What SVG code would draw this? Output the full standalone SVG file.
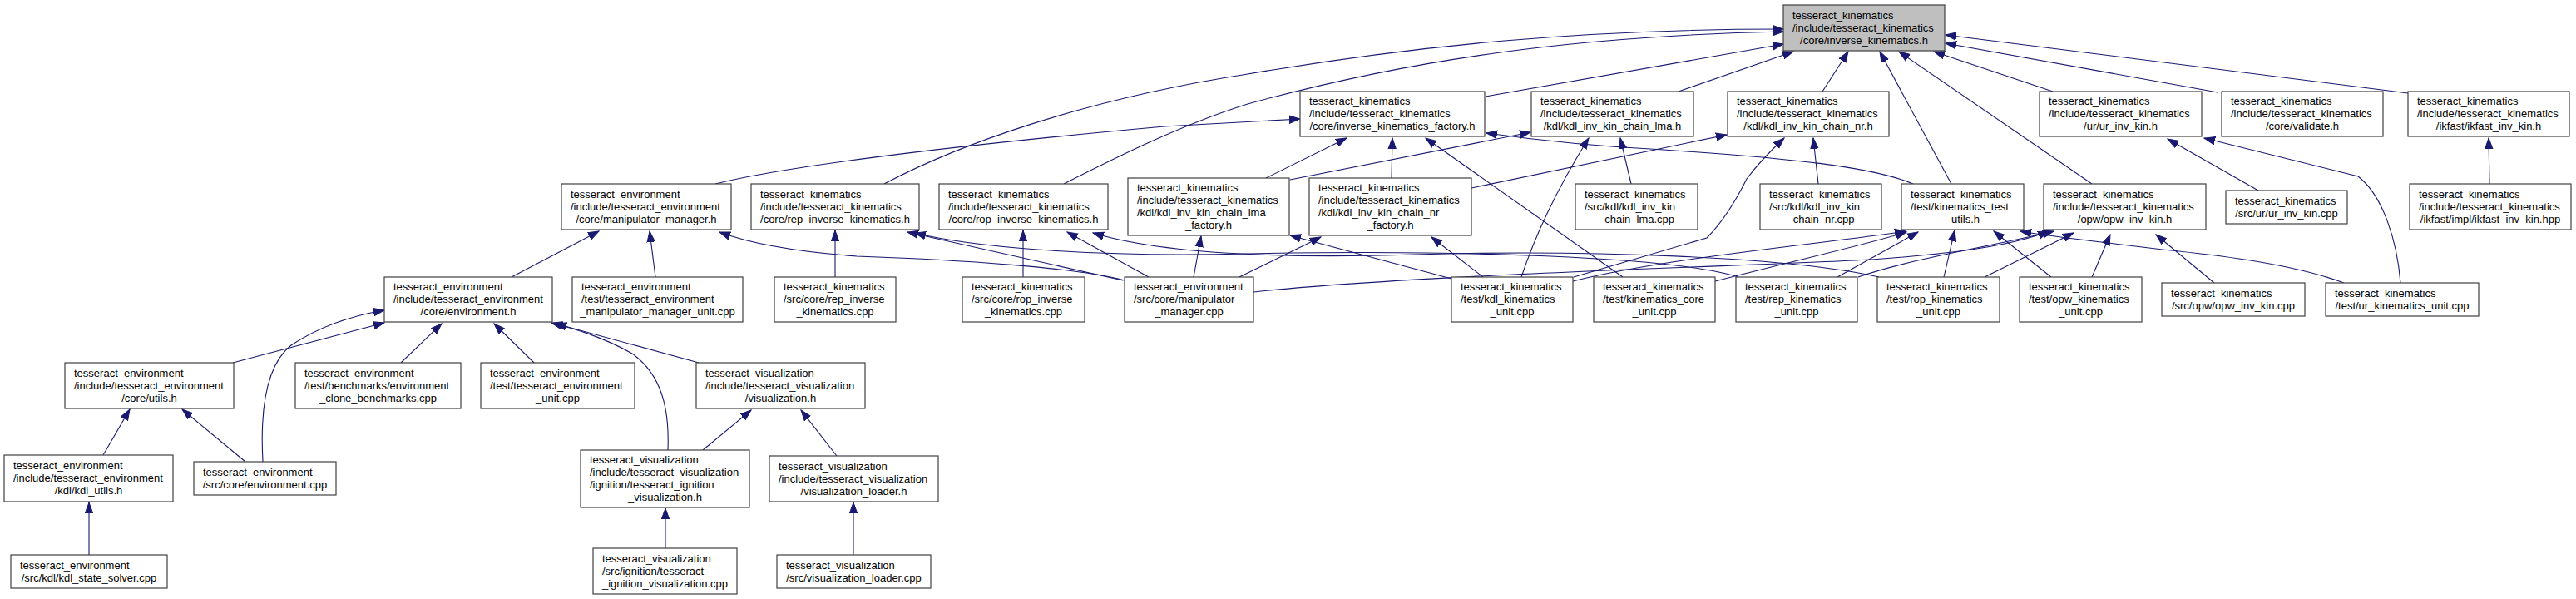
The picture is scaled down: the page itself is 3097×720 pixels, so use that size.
<svg xmlns="http://www.w3.org/2000/svg" width="3097" height="720" viewBox="0 0 3097 720">
<style>
.node rect{fill:#ffffff;stroke:#404040;stroke-width:1.2}
.main rect{fill:#bfbfbf}
.node text{font-family:"Liberation Sans",Arial,sans-serif;font-size:13px;fill:#000}
.node text.c{text-anchor:middle}
#edges path{fill:none;stroke:#191970;stroke-width:1.1;marker-end:url(#ah)}
</style>
<defs>
<marker id="ah" markerUnits="userSpaceOnUse" markerWidth="14" markerHeight="11" viewBox="0 0 14 11" refX="13" refY="5.5" orient="auto">
<path d="M0,0.8 L13,5.5 L0,10.2 z" fill="#191970" stroke="#191970" stroke-width="1"/>
</marker>
</defs>
<rect x="0" y="0" width="3097" height="720" fill="#ffffff"/>
<g id="edges">
<path d="M1786,116 L2144,53"/>
<path d="M2018,110 L2156,62"/>
<path d="M2191,110 L2222,62"/>
<path d="M2346,221 L2260,62"/>
<path d="M2515,221 L2283,62"/>
<path d="M2468,110 L2325,62"/>
<path d="M2666,111 L2339,52"/>
<path d="M2895,112 L2339,42"/>
<path d="M1063,221 C1150,175 1300,120 1500,89 C1700,55 1900,35 2144,35"/>
<path d="M1279,221 C1340,190 1420,150 1500,125 C1700,70 1900,43 2144,38"/>
<path d="M860,221 C960,196 1200,170 1400,152 L1563,143"/>
<path d="M1522,214 L1619,166"/>
<path d="M1673,214 L1674,166"/>
<path d="M1951,333 L1714,166"/>
<path d="M2300,221 C2250,200 2150,190 2000,180 C1900,175 1830,166 1787,160"/>
<path d="M1551,216 L1840,159"/>
<path d="M1961,221 L1948,166"/>
<path d="M1829,333 C1845,285 1870,230 1910,166"/>
<path d="M1769,226 L2076,162"/>
<path d="M2186,221 L2180,166"/>
<path d="M1892,333 L2052,286 C2068,270 2085,245 2100,215 C2115,195 2130,180 2145,166"/>
<path d="M615,333 L720,278"/>
<path d="M788,333 L781,278"/>
<path d="M1352,337 C1300,322 1150,312 1030,308 C950,302 900,292 865,279"/>
<path d="M1004,333 L1004,277"/>
<path d="M1350,337 L1091,279"/>
<path d="M2090,333 C2010,308 1750,300 1500,305 C1300,310 1160,295 1100,280"/>
<path d="M1230,333 L1230,277"/>
<path d="M1381,333 L1283,279"/>
<path d="M2259,333 C2150,308 1900,300 1700,306 C1500,312 1380,300 1314,280"/>
<path d="M1435,333 L1444,284"/>
<path d="M1745,335 L1551,283"/>
<path d="M1490,333 L1588,285"/>
<path d="M1783,333 L1721,285"/>
<path d="M1891,338 C2000,310 2200,292 2291,278"/>
<path d="M2062,338 C2150,315 2240,295 2292,279"/>
<path d="M2209,333 L2306,279"/>
<path d="M2337,333 L2350,277"/>
<path d="M2466,333 L2397,278"/>
<path d="M2818,340 C2750,315 2650,305 2600,300 C2520,290 2470,285 2429,278"/>
<path d="M1507,351 C1700,330 2100,320 2250,312 C2350,305 2420,295 2463,278"/>
<path d="M2234,333 C2300,310 2400,295 2469,278"/>
<path d="M2386,333 L2493,280"/>
<path d="M2515,333 L2537,282"/>
<path d="M2662,340 L2592,282"/>
<path d="M2715,229 L2606,167"/>
<path d="M2886,340 C2882,290 2865,235 2835,212 L2650,166"/>
<path d="M2993,221 L2992,166"/>
<path d="M280,436 L462,388"/>
<path d="M482,436 L531,389"/>
<path d="M642,436 L594,389"/>
<path d="M840,436 L668,389"/>
<path d="M803,541 C805,490 795,450 760,425 C725,405 690,395 663,388"/>
<path d="M316,555 C313,500 318,440 350,415 C380,395 420,380 462,373"/>
<path d="M295,555 L219,492"/>
<path d="M124,547 L156,492"/>
<path d="M107,667 L107,604"/>
<path d="M800,659 L800,611"/>
<path d="M1026,667 L1026,604"/>
<path d="M845,541 L903,493"/>
<path d="M1006,548 L963,493"/>
</g>
<g id="n_main" class="node main"><rect x="2144" y="6" width="194" height="55"/><text x="2155" y="22.5">tesseract_kinematics</text><text x="2155" y="37.5">/include/tesseract_kinematics</text><text class="c" x="2241" y="52.5">/core/inverse_kinematics.h</text></g>
<g id="n_factory" class="node"><rect x="1563" y="110" width="222" height="54"/><text x="1574" y="126">tesseract_kinematics</text><text x="1574" y="141">/include/tesseract_kinematics</text><text class="c" x="1674" y="156">/core/inverse_kinematics_factory.h</text></g>
<g id="n_chain_lma" class="node"><rect x="1841" y="110" width="195" height="54"/><text x="1852" y="126">tesseract_kinematics</text><text x="1852" y="141">/include/tesseract_kinematics</text><text class="c" x="1938.5" y="156">/kdl/kdl_inv_kin_chain_lma.h</text></g>
<g id="n_chain_nr" class="node"><rect x="2077" y="110" width="194" height="54"/><text x="2088" y="126">tesseract_kinematics</text><text x="2088" y="141">/include/tesseract_kinematics</text><text class="c" x="2174" y="156">/kdl/kdl_inv_kin_chain_nr.h</text></g>
<g id="n_ur_h" class="node"><rect x="2452" y="110" width="195" height="54"/><text x="2463" y="126">tesseract_kinematics</text><text x="2463" y="141">/include/tesseract_kinematics</text><text class="c" x="2549.5" y="156">/ur/ur_inv_kin.h</text></g>
<g id="n_validate" class="node"><rect x="2671" y="110" width="194" height="54"/><text x="2682" y="126">tesseract_kinematics</text><text x="2682" y="141">/include/tesseract_kinematics</text><text class="c" x="2768" y="156">/core/validate.h</text></g>
<g id="n_ikfast_h" class="node"><rect x="2895" y="110" width="194" height="54"/><text x="2906" y="126">tesseract_kinematics</text><text x="2906" y="141">/include/tesseract_kinematics</text><text class="c" x="2992" y="156">/ikfast/ikfast_inv_kin.h</text></g>
<g id="n_manip_h" class="node"><rect x="675" y="221" width="204" height="55"/><text x="686" y="237.5">tesseract_environment</text><text x="686" y="252.5">/include/tesseract_environment</text><text class="c" x="777" y="267.5">/core/manipulator_manager.h</text></g>
<g id="n_rep_h" class="node"><rect x="903" y="221" width="202" height="55"/><text x="914" y="237.5">tesseract_kinematics</text><text x="914" y="252.5">/include/tesseract_kinematics</text><text class="c" x="1004" y="267.5">/core/rep_inverse_kinematics.h</text></g>
<g id="n_rop_h" class="node"><rect x="1129" y="221" width="203" height="55"/><text x="1140" y="237.5">tesseract_kinematics</text><text x="1140" y="252.5">/include/tesseract_kinematics</text><text class="c" x="1230.5" y="267.5">/core/rop_inverse_kinematics.h</text></g>
<g id="n_lma_factory" class="node"><rect x="1356" y="214" width="194" height="69"/><text x="1367" y="230">tesseract_kinematics</text><text x="1367" y="245">/include/tesseract_kinematics</text><text x="1367" y="260">/kdl/kdl_inv_kin_chain_lma</text><text class="c" x="1453" y="275">_factory.h</text></g>
<g id="n_nr_factory" class="node"><rect x="1574" y="214" width="195" height="69"/><text x="1585" y="230">tesseract_kinematics</text><text x="1585" y="245">/include/tesseract_kinematics</text><text x="1585" y="260">/kdl/kdl_inv_kin_chain_nr</text><text class="c" x="1671.5" y="275">_factory.h</text></g>
<g id="n_lma_cpp" class="node"><rect x="1894" y="221" width="147" height="55"/><text x="1905" y="237.5">tesseract_kinematics</text><text x="1905" y="252.5">/src/kdl/kdl_inv_kin</text><text class="c" x="1967.5" y="267.5">_chain_lma.cpp</text></g>
<g id="n_nr_cpp" class="node"><rect x="2116" y="221" width="146" height="55"/><text x="2127" y="237.5">tesseract_kinematics</text><text x="2127" y="252.5">/src/kdl/kdl_inv_kin</text><text class="c" x="2189" y="267.5">_chain_nr.cpp</text></g>
<g id="n_test_utils" class="node"><rect x="2286" y="221" width="147" height="55"/><text x="2297" y="237.5">tesseract_kinematics</text><text x="2297" y="252.5">/test/kinematics_test</text><text class="c" x="2359.5" y="267.5">_utils.h</text></g>
<g id="n_opw_h" class="node"><rect x="2457" y="221" width="195" height="55"/><text x="2468" y="237.5">tesseract_kinematics</text><text x="2468" y="252.5">/include/tesseract_kinematics</text><text class="c" x="2554.5" y="267.5">/opw/opw_inv_kin.h</text></g>
<g id="n_ur_cpp" class="node"><rect x="2676" y="229" width="146" height="40"/><text x="2687" y="245.5">tesseract_kinematics</text><text class="c" x="2749" y="260.5">/src/ur/ur_inv_kin.cpp</text></g>
<g id="n_ikfast_hpp" class="node"><rect x="2897" y="221" width="194" height="55"/><text x="2908" y="237.5">tesseract_kinematics</text><text x="2908" y="252.5">/include/tesseract_kinematics</text><text class="c" x="2994" y="267.5">/ikfast/impl/ikfast_inv_kin.hpp</text></g>
<g id="n_env_h" class="node"><rect x="462" y="333" width="202" height="54"/><text x="473" y="349">tesseract_environment</text><text x="473" y="364">/include/tesseract_environment</text><text class="c" x="563" y="379">/core/environment.h</text></g>
<g id="n_manip_unit" class="node"><rect x="688" y="333" width="205" height="54"/><text x="699" y="349">tesseract_environment</text><text x="699" y="364">/test/tesseract_environment</text><text class="c" x="790.5" y="379">_manipulator_manager_unit.cpp</text></g>
<g id="n_rep_cpp" class="node"><rect x="931" y="333" width="146" height="54"/><text x="942" y="349">tesseract_kinematics</text><text x="942" y="364">/src/core/rep_inverse</text><text class="c" x="1004" y="379">_kinematics.cpp</text></g>
<g id="n_rop_cpp" class="node"><rect x="1157" y="333" width="147" height="54"/><text x="1168" y="349">tesseract_kinematics</text><text x="1168" y="364">/src/core/rop_inverse</text><text class="c" x="1230.5" y="379">_kinematics.cpp</text></g>
<g id="n_manip_cpp" class="node"><rect x="1352" y="333" width="155" height="54"/><text x="1363" y="349">tesseract_environment</text><text x="1363" y="364">/src/core/manipulator</text><text class="c" x="1429.5" y="379">_manager.cpp</text></g>
<g id="n_kdl_unit" class="node"><rect x="1745" y="333" width="146" height="54"/><text x="1756" y="349">tesseract_kinematics</text><text x="1756" y="364">/test/kdl_kinematics</text><text class="c" x="1818" y="379">_unit.cpp</text></g>
<g id="n_core_unit" class="node"><rect x="1916" y="333" width="146" height="54"/><text x="1927" y="349">tesseract_kinematics</text><text x="1927" y="364">/test/kinematics_core</text><text class="c" x="1989" y="379">_unit.cpp</text></g>
<g id="n_rep_unit" class="node"><rect x="2087" y="333" width="146" height="54"/><text x="2098" y="349">tesseract_kinematics</text><text x="2098" y="364">/test/rep_kinematics</text><text class="c" x="2160" y="379">_unit.cpp</text></g>
<g id="n_rop_unit" class="node"><rect x="2257" y="333" width="147" height="54"/><text x="2268" y="349">tesseract_kinematics</text><text x="2268" y="364">/test/rop_kinematics</text><text class="c" x="2330.5" y="379">_unit.cpp</text></g>
<g id="n_opw_unit" class="node"><rect x="2428" y="333" width="147" height="54"/><text x="2439" y="349">tesseract_kinematics</text><text x="2439" y="364">/test/opw_kinematics</text><text class="c" x="2501.5" y="379">_unit.cpp</text></g>
<g id="n_opw_cpp" class="node"><rect x="2599" y="340" width="172" height="40"/><text x="2610" y="356.5">tesseract_kinematics</text><text class="c" x="2685" y="371.5">/src/opw/opw_inv_kin.cpp</text></g>
<g id="n_ur_unit" class="node"><rect x="2796" y="340" width="184" height="40"/><text x="2807" y="356.5">tesseract_kinematics</text><text class="c" x="2888" y="371.5">/test/ur_kinematics_unit.cpp</text></g>
<g id="n_utils_h" class="node"><rect x="78" y="436" width="203" height="55"/><text x="89" y="452.5">tesseract_environment</text><text x="89" y="467.5">/include/tesseract_environment</text><text class="c" x="179.5" y="482.5">/core/utils.h</text></g>
<g id="n_clone" class="node"><rect x="355" y="436" width="199" height="55"/><text x="366" y="452.5">tesseract_environment</text><text x="366" y="467.5">/test/benchmarks/environment</text><text class="c" x="454.5" y="482.5">_clone_benchmarks.cpp</text></g>
<g id="n_env_unit" class="node"><rect x="578" y="436" width="185" height="55"/><text x="589" y="452.5">tesseract_environment</text><text x="589" y="467.5">/test/tesseract_environment</text><text class="c" x="670.5" y="482.5">_unit.cpp</text></g>
<g id="n_vis_h" class="node"><rect x="837" y="436" width="203" height="55"/><text x="848" y="452.5">tesseract_visualization</text><text x="848" y="467.5">/include/tesseract_visualization</text><text class="c" x="938.5" y="482.5">/visualization.h</text></g>
<g id="n_kdl_utils" class="node"><rect x="5" y="547" width="203" height="56"/><text x="16" y="564">tesseract_environment</text><text x="16" y="579">/include/tesseract_environment</text><text class="c" x="106.5" y="594">/kdl/kdl_utils.h</text></g>
<g id="n_env_cpp" class="node"><rect x="233" y="555" width="171" height="40"/><text x="244" y="571.5">tesseract_environment</text><text class="c" x="318.5" y="586.5">/src/core/environment.cpp</text></g>
<g id="n_ign_h" class="node"><rect x="698" y="541" width="203" height="69"/><text x="709" y="557">tesseract_visualization</text><text x="709" y="572">/include/tesseract_visualization</text><text x="709" y="587">/ignition/tesseract_ignition</text><text class="c" x="799.5" y="602">_visualization.h</text></g>
<g id="n_vis_loader_h" class="node"><rect x="925" y="548" width="203" height="55"/><text x="936" y="564.5">tesseract_visualization</text><text x="936" y="579.5">/include/tesseract_visualization</text><text class="c" x="1026.5" y="594.5">/visualization_loader.h</text></g>
<g id="n_kdl_state_solver" class="node"><rect x="13" y="667" width="188" height="40"/><text x="24" y="683.5">tesseract_environment</text><text class="c" x="107" y="698.5">/src/kdl/kdl_state_solver.cpp</text></g>
<g id="n_ign_cpp" class="node"><rect x="713" y="659" width="173" height="55"/><text x="724" y="675.5">tesseract_visualization</text><text x="724" y="690.5">/src/ignition/tesseract</text><text class="c" x="799.5" y="705.5">_ignition_visualization.cpp</text></g>
<g id="n_vis_loader_cpp" class="node"><rect x="934" y="667" width="185" height="40"/><text x="945" y="683.5">tesseract_visualization</text><text class="c" x="1026.5" y="698.5">/src/visualization_loader.cpp</text></g>
</svg>
